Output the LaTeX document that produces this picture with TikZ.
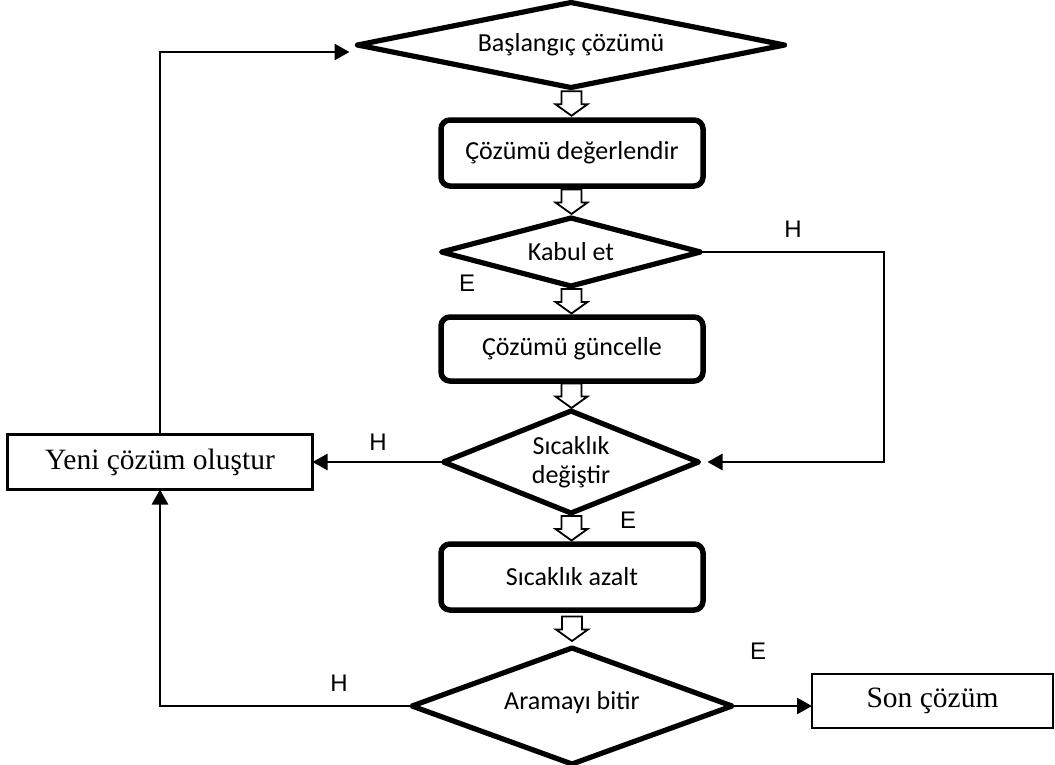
\documentclass[tikz,border=0pt]{standalone}
\usepackage{fontspec}
\setmainfont{Carlito}
\newfontfamily\serifface{Liberation Serif}
\newfontfamily\labelface{Liberation Sans}
\usetikzlibrary{shapes.geometric,arrows.meta,calc}

\tikzset{
  % hollow block arrow between two stacked steps
  pics/hollowdown/.style={code={
    \draw[line width=1.8pt, line join=miter, fill=white]
      (-10,-12.5) -- (10,-12.5) -- (10,0.5) -- (16,0.5) -- (0,12) -- (-16,0.5) -- (-10,0.5) -- cycle;
  }}
}

\begin{document}
\begin{tikzpicture}[x=1pt,y=-1pt,
  decision/.style={diamond, draw, line width=5.2pt, line join=round, inner sep=0pt, outer sep=0pt},
  process/.style={rectangle, rounded corners=9pt, draw, line width=5.5pt, minimum width=262pt,
    inner sep=0pt, outer sep=0pt, font=\fontsize{26}{30}\selectfont},
  plainbox/.style={rectangle, draw, line width=2.2pt, inner sep=0pt, outer sep=0pt,
    font=\serifface\fontsize{29.5}{34}\selectfont},
  body/.style={font=\fontsize{26}{29}\selectfont, align=center, inner sep=0pt},
  yesno/.style={font=\labelface\fontsize{24}{28}\selectfont, inner sep=0pt},
  wire/.style={line width=2.6pt},
  flow/.style={wire, -{Triangle[length=15pt,width=16pt]}}
]
\useasboundingbox (0,0) rectangle (1055,764);

% main column
\node[decision, minimum width=427pt, minimum height=85pt] (start) at (571,45) {};
\node[body] (startt) at (start) {Başlangıç çözümü};
\node[process, minimum height=66pt] (eval) at (572,153) {Çözümü değerlendir};
\node[decision, minimum width=259pt, minimum height=68pt] (accept) at (571,252) {};
\node[body] (acceptt) at (accept) {Kabul et};
\node[process, minimum height=64pt] (update) at (572,349) {Çözümü güncelle};
\node[decision, minimum width=255pt, minimum height=102pt] (temp) at (571,462) {};
\node[body] (tempt) at (571,462) {Sıcaklık\\değiştir};
\node[process, minimum height=66pt] (cool) at (572,577) {Sıcaklık azalt};
\node[decision, minimum width=320pt, minimum height=116pt] (stop) at (572,706) {};
\node[body] (stopt) at (572,703) {Aramayı bitir};

% side boxes
\node[plainbox, minimum width=305pt, minimum height=55pt] (new) at (160,462) {Yeni çözüm oluştur};
\node[plainbox, minimum width=241pt, minimum height=54pt] (final) at (932.5,701) {Son çözüm};

% hollow arrows down the main column
\pic at ($(start.south)!0.5!(eval.north)$) {hollowdown};
\pic at ($(eval.south)!0.5!(accept.north)$) {hollowdown};
\pic at ($(accept.south)!0.5!(update.north)$) {hollowdown};
\pic at ($(update.south)!0.5!(temp.north)$) {hollowdown};
\pic at ($(temp.south)!0.5!(cool.north)$) {hollowdown};
\pic at ($(cool.south)!0.5!(stop.north)$) {hollowdown};

% branch connectors
\coordinate (rightrail) at (884,252);
\coordinate (tempin) at ($(temp.east)+(9,0)$);
\coordinate (startin) at ($(start.west)+(-8,7)$);
\draw[flow] (accept.east) -- (rightrail) |- (tempin);
\draw[flow] (temp.west) -- (temp.west -| new.east);
\draw[flow] (new.north) |- (startin);
\draw[flow] (stop.west) -| (new.south);
\draw[flow] (stop.east) -- (stop.east -| final.west);

% branch labels
\node[yesno] (hAccept) at (793,229) {H};
\node[yesno] (eAccept) at (467,283) {E};
\node[yesno] (hTemp) at (378,442) {H};
\node[yesno] (eTemp) at (628,520) {E};
\node[yesno] (hStop) at (339,683) {H};
\node[yesno] (eStop) at (758,651) {E};
\end{tikzpicture}
\end{document}
